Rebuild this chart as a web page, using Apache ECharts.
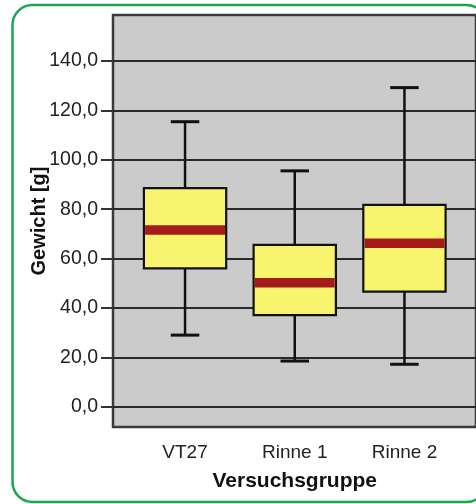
<!DOCTYPE html>
<html>
<head>
<meta charset="utf-8">
<script src="https://cdn.jsdelivr.net/npm/echarts@6/dist/echarts.min.js"></script>
<style>html,body{margin:0;padding:0;background:#fff;}#c{width:476px;height:504px;}</style>
</head>
<body>
<div id="c"></div>
<script>
const categories = ['VT27', 'Rinne 1', 'Rinne 2'];
const whiskerLow = [29.0, 18.5, 17.2];
const q1 = [56.0, 37.1, 46.6];
const median = [71.6, 50.2, 66.2];
const q3 = [88.5, 65.5, 81.7];
const whiskerHigh = [115.4, 95.5, 129.2];
const yTicks = [0, 20, 40, 60, 80, 100, 120, 140];
const yMin = -8.2, yMax = 158.6;

const boxData = categories.map((c, i) => [i, whiskerLow[i], q1[i], median[i], q3[i], whiskerHigh[i]]);

const FONT = 'Liberation Sans';
const chart = echarts.init(document.getElementById('c'), null, {renderer: 'canvas'});

function renderItem(params, api) {
  const x = api.value(0);
  const pLow = api.coord([x, api.value(1)]);
  const pQ1 = api.coord([x, api.value(2)]);
  const pMed = api.coord([x, api.value(3)]);
  const pQ3 = api.coord([x, api.value(4)]);
  const pHigh = api.coord([x, api.value(5)]);
  const band = api.size([1, 0])[0];
  const bw = band * 0.75;
  const cw = band * 0.26;
  const cx = pLow[0];
  const ws = {stroke: '#111', lineWidth: 2.5};
  return {
    type: 'group',
    children: [
      {type: 'line', shape: {x1: cx, y1: pHigh[1], x2: cx, y2: pQ3[1]}, style: ws},
      {type: 'line', shape: {x1: cx, y1: pQ1[1], x2: cx, y2: pLow[1]}, style: ws},
      {type: 'line', shape: {x1: cx - cw / 2, y1: pHigh[1], x2: cx + cw / 2, y2: pHigh[1]}, style: {stroke: '#111', lineWidth: 3}},
      {type: 'line', shape: {x1: cx - cw / 2, y1: pLow[1], x2: cx + cw / 2, y2: pLow[1]}, style: {stroke: '#111', lineWidth: 3}},
      {type: 'rect', shape: {x: cx - bw / 2, y: pQ3[1], width: bw, height: pQ1[1] - pQ3[1]},
        style: {fill: '#f8f46e', stroke: '#111', lineWidth: 2.2}},
      {type: 'rect', shape: {x: cx - bw / 2 + 1.2, y: pMed[1] - 4.75, width: bw - 2.4, height: 9.5},
        style: {fill: '#a51b1b'}}
    ]
  };
}

const option = {
  animation: false,
  backgroundColor: '#ffffff',
  graphic: [{
    type: 'rect', z: 100, silent: true,
    shape: {x: 12.5, y: 5, width: 474, height: 497, r: 20},
    style: {fill: 'none', stroke: '#1aa84a', lineWidth: 2.5}
  }],
  grid: [
    {left: 113, top: 15, right: -3, bottom: 77, show: true, backgroundColor: '#cbcbcb',
      borderColor: '#3a3a3a', borderWidth: 2.5},
    {left: 130.2, width: 329.1, top: 15, bottom: 77, show: false}
  ],
  xAxis: [
    {gridIndex: 0, type: 'value', min: 0, max: 1, show: false},
    {gridIndex: 1, type: 'category', data: categories,
      axisLine: {show: false},
      axisTick: {alignWithLabel: true, length: 12, lineStyle: {color: '#333', width: 2}},
      axisLabel: {fontSize: 19, color: '#222', margin: 16, fontFamily: FONT},
      splitLine: {show: false},
      name: 'Versuchsgruppe', nameLocation: 'middle', nameGap: 44, nameMoveOverlap: false,
      nameTextStyle: {fontSize: 21, fontWeight: 'bold', color: '#111', fontFamily: FONT}}
  ],
  yAxis: [
    {gridIndex: 0, type: 'value', min: yMin, max: yMax,
      axisLine: {show: false},
      axisTick: {customValues: yTicks, length: 12, lineStyle: {color: '#333', width: 2}},
      axisLabel: {customValues: yTicks, fontSize: 19.5, color: '#222', margin: 15, fontFamily: FONT,
        formatter: v => v.toFixed(1).replace('.', ',')},
      splitLine: {show: true, lineStyle: {color: '#2a2a2a', width: 2}},
      name: 'Gewicht [g]', nameLocation: 'middle', nameGap: 64, nameMoveOverlap: false,
      nameTextStyle: {fontSize: 20, fontWeight: 'bold', color: '#111', fontFamily: FONT}},
    {gridIndex: 1, type: 'value', min: yMin, max: yMax, show: false}
  ],
  series: [{
    type: 'custom', xAxisIndex: 1, yAxisIndex: 1,
    renderItem: renderItem,
    encode: {x: 0, y: [1, 2, 3, 4, 5]},
    data: boxData
  }]
};
chart.setOption(option);
</script>
</body>
</html>
